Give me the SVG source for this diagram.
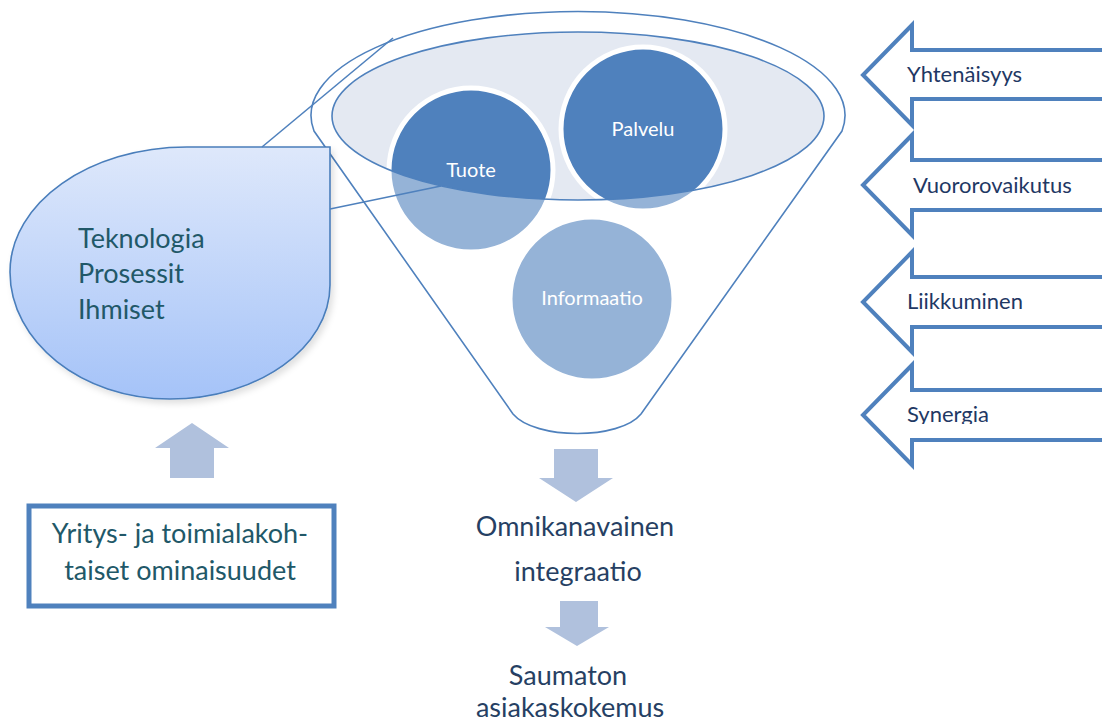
<svg xmlns="http://www.w3.org/2000/svg" width="1102" height="724" viewBox="0 0 1102 724">
<style>
.ol{fill:none;stroke:#4f81bd;stroke-width:1.6}
.arw{fill:#fff;stroke:#4f81bd;stroke-width:4;stroke-linejoin:miter}
.blk{fill:#b0c1dd}
.cl{font-family:Lato,"Open Sans",sans-serif;font-size:20px;fill:#fff;text-anchor:middle}
.rl{font-family:Lato,"Open Sans",sans-serif;font-size:22px;fill:#1f3864}
.tk{font-family:Lato,"Open Sans",sans-serif;font-size:27px;fill:#215868}
.bt{font-family:Lato,"Open Sans",sans-serif;font-size:27px;fill:#263f63;text-anchor:middle}
.light{fill:#95b3d7}
.dark{fill:#4f81bd}
.ring{fill:none;stroke:#fff;stroke-width:5}
</style>
<defs>
<linearGradient id="tg" x1="0" y1="0" x2="0" y2="1">
<stop offset="0" stop-color="#dee8fb"/>
<stop offset="1" stop-color="#a5c3f8"/>
</linearGradient>
<clipPath id="ec"><ellipse cx="578" cy="116" rx="246" ry="84"/></clipPath>
<clipPath id="sc"><rect x="850" y="380" width="252" height="44"/></clipPath>
<filter id="sh" x="-10%" y="-10%" width="130%" height="130%">
<feDropShadow dx="3" dy="4" stdDeviation="3" flood-color="#000" flood-opacity="0.12"/>
</filter>
</defs>

<g id="funnel">
<path d="M314,131 A267,104 0 1 1 842,131 L641,414 C620,440 535,440 513,414 Z" fill="#fff" stroke="none"/>
<ellipse cx="578" cy="116" rx="246" ry="84" fill="#e4e9f2"/>
</g>

<g id="tuote">
<circle cx="471" cy="170" r="82" class="light"/>
<circle cx="471" cy="170" r="82" class="dark" clip-path="url(#ec)"/>
<circle cx="471" cy="170" r="82" class="ring"/>
</g>
<g id="palvelu">
<circle cx="643" cy="129" r="82" class="light"/>
<circle cx="643" cy="129" r="82" class="dark" clip-path="url(#ec)"/>
<circle cx="643" cy="129" r="82" class="ring"/>
</g>
<g id="informaatio">
<circle cx="592" cy="299" r="82" class="light"/>
<circle cx="592" cy="299" r="82" class="ring"/>
</g>

<g id="funnel-outline">
<ellipse cx="578" cy="116" rx="246" ry="84" class="ol"/>
<path d="M314,131 A267,104 0 1 1 842,131 L641,414 C620,440 535,440 513,414 Z" class="ol"/>
</g>

<g id="circle-labels">
<text x="471" y="177" class="cl">Tuote</text>
<text x="643" y="136" class="cl">Palvelu</text>
<text x="592" y="305" class="cl">Informaatio</text>
</g>

<g id="teknologia">
<path d="M330,147 L330,285 C330,347.4 258.4,399 170,399 C81.6,399 10,341.6 10,272 C10,203 89.2,147 187,147 Z" fill="url(#tg)" stroke="#4a7ebb" stroke-width="1.6" filter="url(#sh)"/>
<text class="tk"><tspan x="78" y="248">Teknologia</tspan><tspan x="78" y="283">Prosessit</tspan><tspan x="78" y="319">Ihmiset</tspan></text>
</g>

<g id="connectors">
<line x1="262" y1="147" x2="393" y2="38" class="ol"/>
<line x1="330" y1="209" x2="441" y2="186" class="ol"/>
<path d="M170,478 L170,448 L155,448 L192,423 L229,448 L214,448 L214,478 Z" class="blk"/>
<path d="M554,449 L598,449 L598,478 L613,478 L576,502 L539,478 L554,478 Z" class="blk"/>
<path d="M560,601 L598,601 L598,627 L609,627 L577,646 L545,627 L560,627 Z" class="blk"/>
</g>

<g id="arrow-yhtenaisyys">
<path d="M1110,50 L912,50 L912,25 L863,75 L912,125 L912,99 L1110,99" class="arw"/>
<text x="907" y="82" class="rl">Yhtenäisyys</text>
</g>
<g id="arrow-vuorovaikutus">
<path d="M1110,160 L912,160 L912,135 L863,185 L912,235 L912,210 L1110,210" class="arw"/>
<text x="913" y="193" class="rl">Vuororovaikutus</text>
</g>
<g id="arrow-liikkuminen">
<path d="M1110,277 L912,277 L912,252 L863,302 L912,352 L912,327 L1110,327" class="arw"/>
<text x="907" y="309" class="rl">Liikkuminen</text>
</g>
<g id="arrow-synergia">
<path d="M1110,390 L912,390 L912,365 L863,415 L912,465 L912,440 L1110,440" class="arw"/>
<text x="907" y="422" class="rl" clip-path="url(#sc)">Synergia</text>
</g>

<g id="box">
<rect x="29" y="506" width="305" height="100" fill="#fff" stroke="#4f81bd" stroke-width="5"/>
<text class="tk" text-anchor="middle"><tspan x="180" y="543">Yritys- ja toimialakoh-</tspan><tspan x="180" y="580">taiset ominaisuudet</tspan></text>
</g>

<g id="outputs">
<text x="575" y="536" class="bt">Omnikanavainen</text>
<text x="578" y="581" class="bt">integraatio</text>
<text x="568" y="685" class="bt">Saumaton</text>
<text x="570" y="717" class="bt">asiakaskokemus</text>
</g>
</svg>
